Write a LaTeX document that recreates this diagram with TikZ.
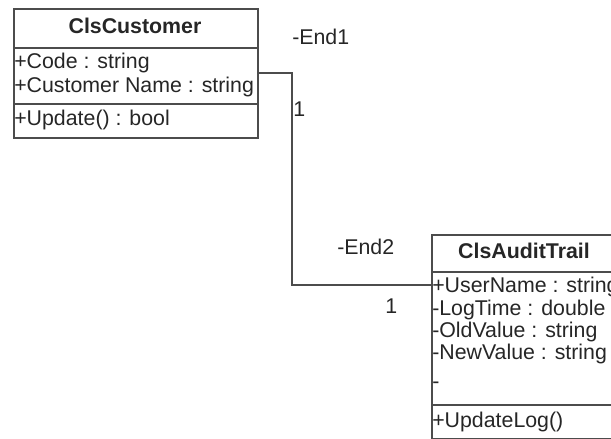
\documentclass[tikz,border=0pt]{standalone}
\usepackage{fontspec}
\setmainfont{Liberation Sans}
\usetikzlibrary{positioning}

\begin{document}
\begin{tikzpicture}[
  x=0.75pt, y=-0.75pt,
  every node/.style={font=\fontsize{16}{18}\selectfont, text=black!85},
  classbox/.style={draw=black!70, line width=1.5pt, anchor=north west, inner sep=0pt},
  divider/.style={draw=black!70, line width=1.2pt},
  member/.style={anchor=base west, inner sep=0pt},
  classname/.style={anchor=base, inner sep=0pt, font=\fontsize{16}{18}\selectfont\bfseries},
  endlabel/.style={anchor=base west, inner sep=0pt},
  assoc/.style={draw=black!70, line width=1.5pt}
]
  \useasboundingbox (0,0) rectangle (611,439);
  \clip (0,0) rectangle (611,439);

  % ClsCustomer
  \node[classbox, minimum width=183pt, minimum height=96.75pt] (cust) at (13,8) {};
  \node[classname] (custname) at (135,33) {ClsCustomer};
  \draw[divider] (cust.west |- 0,48) -- (cust.east |- 0,48);
  \node[member] (custcode) at (14,68) {+Code : string};
  \node[member] (custcname) at (14,92) {+Customer Name : string};
  \draw[divider] (cust.west |- 0,104) -- (cust.east |- 0,104);
  \node[member] (custupd) at (14,125) {+Update() : bool};

  % ClsAuditTrail
  \node[classbox, minimum width=139.5pt, minimum height=153pt] (audit) at (431,234) {};
  \node[classname] (auditname) at (524,258) {ClsAuditTrail};
  \draw[divider] (audit.west |- 0,272) -- (audit.east |- 0,272);
  \node[member] (auditusr) at (432,292) {+UserName : string};
  \node[member] (audittime) at (432,315) {-LogTime : double};
  \node[member] (auditold) at (432,337) {-OldValue : string};
  \node[member] (auditnew) at (432,359) {-NewValue : string};
  \node[member] (auditdash) at (432,388) {-};
  \draw[divider] (audit.west |- 0,405) -- (audit.east |- 0,405);
  \node[member] (auditlog) at (432,427) {+UpdateLog()};

  % Association
  \coordinate (end1) at (cust.east |- 0,73);
  \coordinate (end2) at (audit.west |- 0,285);
  \draw[assoc] (end1) -- (292,73) -- (292,285) -- (end2);
  \node[endlabel] (role1) at (292,45) {-End1};
  \node[endlabel] (mult1) at (293,116) {1};
  \node[endlabel] (role2) at (337,254) {-End2};
  \node[endlabel] (mult2) at (385,313) {1};
\end{tikzpicture}
\end{document}
